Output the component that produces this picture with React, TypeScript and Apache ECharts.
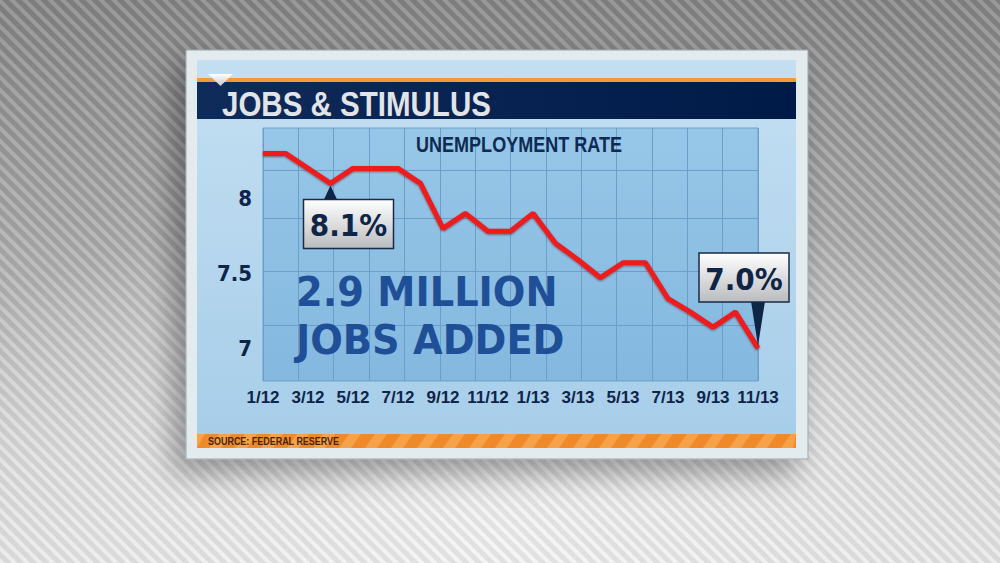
import React, { useEffect, useRef } from "react";
import * as echarts from "echarts";

const months = [
  "1/12", "2/12", "3/12", "4/12", "5/12", "6/12", "7/12", "8/12", "9/12", "10/12", "11/12", "12/12",
  "1/13", "2/13", "3/13", "4/13", "5/13", "6/13", "7/13", "8/13", "9/13", "10/13", "11/13",
];
const rates = [
  8.3, 8.3, 8.2, 8.1, 8.2, 8.2, 8.2, 8.1, 7.8, 7.9, 7.78, 7.78,
  7.9, 7.7, 7.59, 7.47, 7.57, 7.57, 7.33, 7.24, 7.14, 7.24, 7.0,
];
const yLabelValues = [7, 7.5, 8];
const gridRowValues = [7.15, 7.51, 7.87, 8.19];
const gridColumns = 14;
const titleText = "JOBS & STIMULUS";
const subtitleText = "UNEMPLOYMENT RATE";
const headlineLines = ["2.9 MILLION", "JOBS ADDED"];
const sourceText = "SOURCE: FEDERAL RESERVE";
const calloutIndices = [3, 22];

const SANS = "'Liberation Sans', Arial, sans-serif";
const COND = "'DejaVu Sans Condensed', 'Liberation Sans', sans-serif";
const NAVY = "#0e2449";
const NARROW_SCALE = 0.82;

export default function App() {
  const ref = useRef<HTMLDivElement>(null);

  useEffect(() => {
    const chart = echarts.init(ref.current!, null, { renderer: "svg" });
    const lg = (c0: string, c1: string, horizontal = false) =>
      new echarts.graphic.LinearGradient(0, 0, horizontal ? 1 : 0, horizontal ? 0 : 1, [
        { offset: 0, color: c0 },
        { offset: 1, color: c1 },
      ]);

    const stripes: any[] = [];
    for (let sx = 183; sx < 796; sx += 26) {
      const cl = (v: number) => Math.max(197, Math.min(796, v));
      stripes.push({
        type: "polygon",
        z: -14,
        silent: true,
        shape: { points: [[cl(sx + 10), 434], [cl(sx + 22), 434], [cl(sx + 12), 448], [cl(sx), 448]] },
        style: { fill: "rgba(255,190,110,0.45)" },
      });
    }

    const scaledText = (x: number, y: number, sx: number, text: string, font: string, fill: string, align: string, z: number, extra: any = {}) => ({
      type: "text", z, silent: true, x, y, scaleX: sx,
      style: { x: 0, y: 0, text, font, fill, align, verticalAlign: "middle", ...extra },
    });

    const graphics: any[] = [
      {
        type: "rect", z: -20, silent: true,
        shape: { x: 186, y: 50, width: 622, height: 409 },
        style: { fill: "#e3ebee", stroke: "#9ba6ab", lineWidth: 1, shadowBlur: 30, shadowColor: "rgba(0,0,0,0.35)", shadowOffsetX: -12, shadowOffsetY: 14 },
      },
      {
        type: "rect", z: -19, silent: true,
        shape: { x: 197, y: 60, width: 599, height: 388 },
        style: { fill: lg("#c4dff2", "#a6cde9") },
      },
      {
        type: "rect", z: -18, silent: true,
        shape: { x: 197, y: 78, width: 599, height: 4 },
        style: { fill: "#f29a36" },
      },
      {
        type: "rect", z: -18, silent: true,
        shape: { x: 197, y: 82, width: 599, height: 37 },
        style: { fill: lg("#0f2b5a", "#001a48", true) },
      },
      {
        type: "polygon", z: -17, silent: true,
        shape: { points: [[208, 74], [233, 74], [220.5, 86]] },
        style: { fill: lg("#ffffff", "#c9c9c9") },
      },
      scaledText(222, 103, NARROW_SCALE, titleText, `bold 36px ${SANS}`, "#e2e5e8", "left", -16, {
        shadowColor: "rgba(0,0,0,0.7)", shadowBlur: 2, shadowOffsetX: 1, shadowOffsetY: 1,
      }),
      {
        type: "rect", z: -15, silent: true,
        shape: { x: 197, y: 434, width: 599, height: 14 },
        style: { fill: "#ee8a2a" },
      },
      ...stripes,
      scaledText(208, 441.5, 0.78, sourceText, `bold 11.5px ${SANS}`, "#4a2608", "left", -13),
      scaledText(519, 144, NARROW_SCALE, subtitleText, `bold 22px ${SANS}`, "#102a52", "center", 1),
      scaledText(296, 316, 1.04, headlineLines.join("\n"), `bold 41px ${COND}`, "#1f4f97", "left", 1, {
        lineHeight: 48,
        shadowColor: "rgba(5,25,60,0.7)", shadowBlur: 1, shadowOffsetX: 1, shadowOffsetY: 1,
      }),
    ];

    chart.setOption({
      animation: false,
      grid: {
        left: 263, right: 242, top: 128, bottom: 182,
        show: true, backgroundColor: lg("#97c7e8", "#84b8df"), borderColor: "#6e9fc9", borderWidth: 1,
      },
      xAxis: [
        {
          type: "category", data: months, boundaryGap: false,
          axisLine: { show: false }, axisTick: { show: false }, splitLine: { show: false },
          axisLabel: { interval: 1, margin: 8, color: NAVY, fontFamily: SANS, fontWeight: "bold", fontSize: 17 },
        },
        {
          type: "value", min: 0, max: gridColumns, interval: 1, position: "top",
          axisLine: { show: false }, axisTick: { show: false }, axisLabel: { show: false },
          splitLine: { show: true, lineStyle: { color: "#6b9ecb", width: 1 } },
        },
      ],
      yAxis: {
        type: "value", min: 6.78, max: 8.47,
        axisLine: { show: false },
        axisTick: { show: false, customValues: gridRowValues },
        axisLabel: { customValues: yLabelValues, margin: 11, color: NAVY, fontFamily: COND, fontWeight: "bold", fontSize: 22 },
        splitLine: { show: true, lineStyle: { color: "#6b9ecb", width: 1 } },
      },
      series: [
        {
          type: "line", data: rates, xAxisIndex: 0, yAxisIndex: 0, symbol: "none", z: 5,
          lineStyle: { color: "#ee1a1a", width: 5, shadowColor: "rgba(90,0,0,0.55)", shadowBlur: 2, shadowOffsetY: 1 },
        },
      ],
      graphic: graphics,
    });

    const callouts: any[] = [];
    calloutIndices.forEach((idx, k) => {
      const p = chart.convertToPixel({ xAxisIndex: 0, yAxisIndex: 0 }, [idx, rates[idx]]) as number[];
      const [px, py] = p;
      const below = k === 0;
      const bw = 90, bh = 49;
      const bx = below ? px - 27 : px - 59;
      const by = below ? py + 16 : py - 95;
      const pointer = below
        ? [[px - 7, by + 1], [px + 7, by + 1], [px, py + 2]]
        : [[px - 7, by + bh - 1], [px + 7, by + bh - 1], [px, py - 2]];
      callouts.push(
        {
          id: `ptr${k}`, type: "polygon", z: 20, silent: true,
          shape: { points: pointer },
          style: { fill: "#0f2548" },
        },
        {
          id: `box${k}`, type: "rect", z: 21, silent: true,
          shape: { x: bx, y: by, width: bw, height: bh },
          style: { fill: lg("#ffffff", "#b9bcbf"), stroke: "#1a2a48", lineWidth: 1.5 },
        },
        {
          id: `txt${k}`, type: "text", z: 22, silent: true,
          style: {
            x: bx + bw / 2, y: by + bh / 2 + 1, text: `${rates[idx].toFixed(1)}%`,
            align: "center", verticalAlign: "middle", font: `bold 31px ${COND}`, fill: "#0f2546",
          },
        }
      );
    });
    chart.setOption({ graphic: { elements: callouts } });

    return () => chart.dispose();
  }, []);

  const bg = [
    "repeating-linear-gradient(45deg, rgba(255,255,255,0.16) 0px, rgba(255,255,255,0.16) 3px, rgba(0,0,0,0.07) 4px, rgba(0,0,0,0.07) 8px, rgba(255,255,255,0.16) 9px)",
    "radial-gradient(ellipse 70% 60% at 50% 95%, rgba(245,245,245,0.9) 0%, rgba(245,245,245,0) 100%)",
    "linear-gradient(180deg, #858585 0%, #a9a9a9 40%, #d6d6d6 80%, #e4e4e4 100%)",
  ].join(", ");

  return (
    <div style={{ position: "fixed", left: 0, top: 0, width: 1000, height: 563, background: bg }}>
      <div ref={ref} style={{ width: 1000, height: 563 }} />
    </div>
  );
}
